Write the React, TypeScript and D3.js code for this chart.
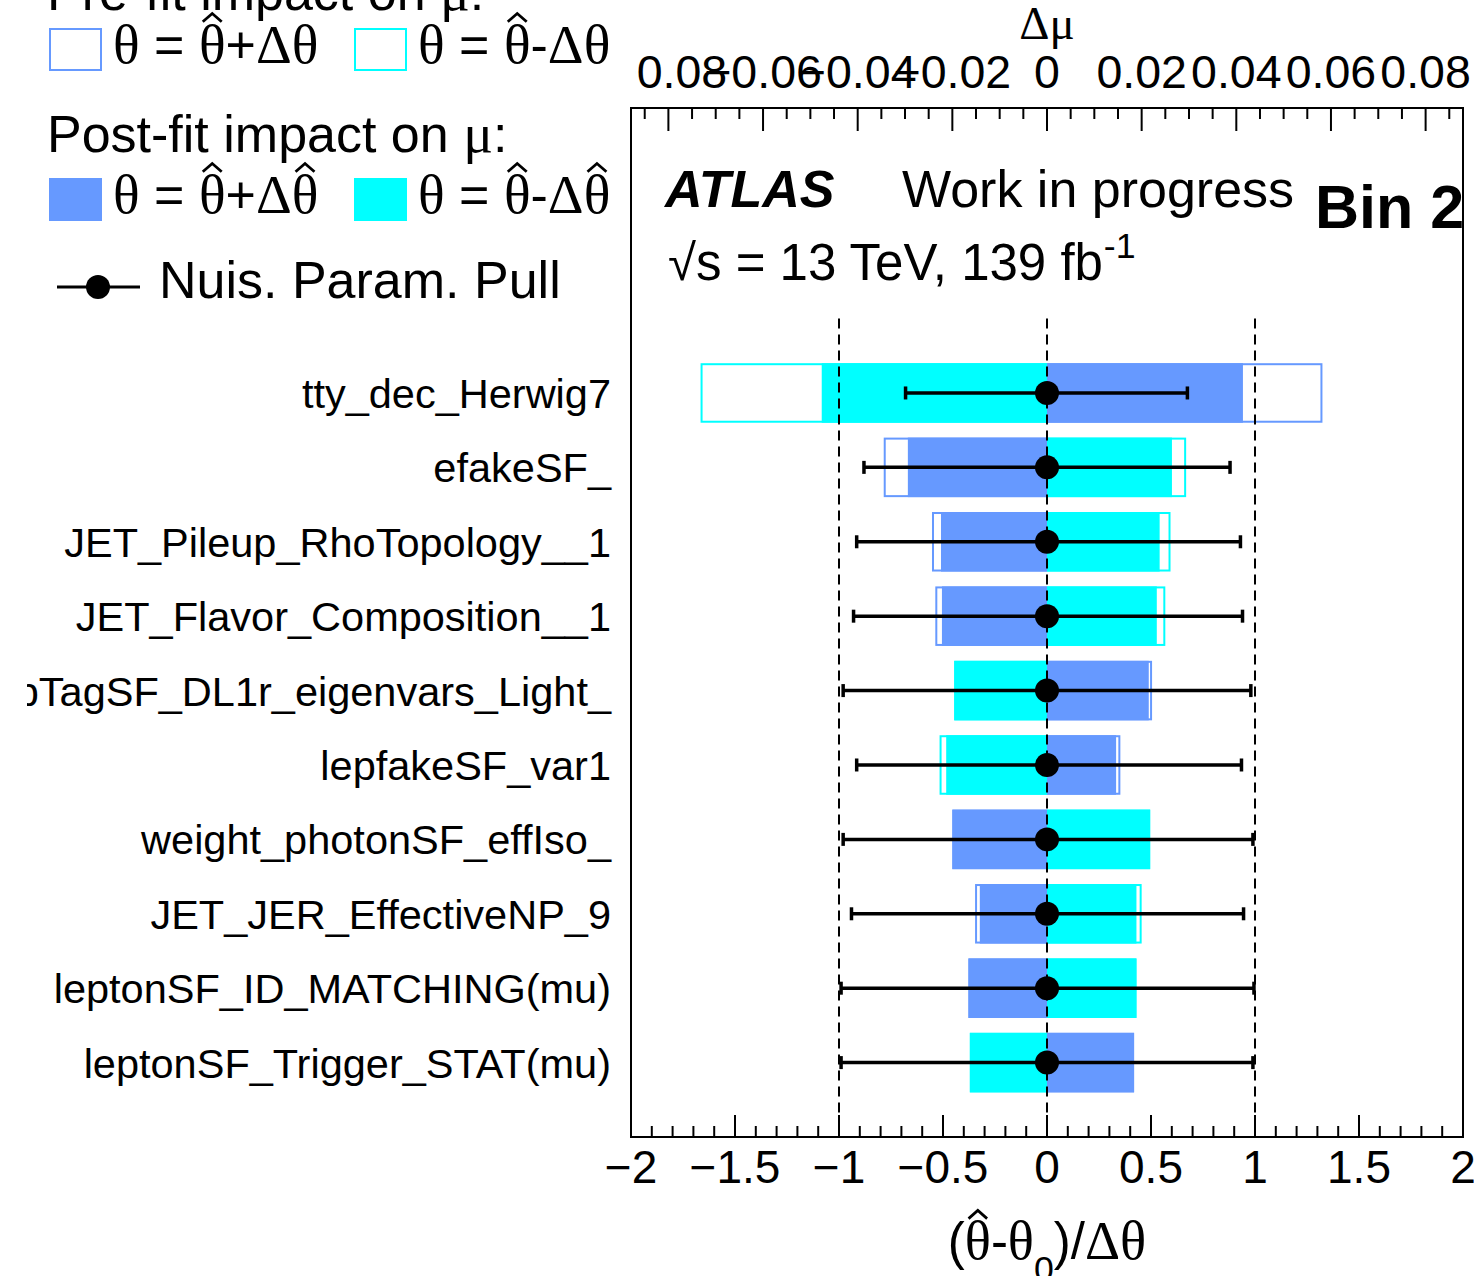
import React from 'react';
import * as d3 from 'd3';

// ---------- data ----------
const parameters = [
  'tty_dec_Herwig7',
  'efakeSF_',
  'JET_Pileup_RhoTopology__1',
  'JET_Flavor_Composition__1',
  'bTagSF_DL1r_eigenvars_Light_',
  'lepfakeSF_var1',
  'weight_photonSF_effIso_',
  'JET_JER_EffectiveNP_9',
  'leptonSF_ID_MATCHING(mu)',
  'leptonSF_Trigger_STAT(mu)',
];
// nuisance-parameter pulls (theta_hat - theta_0)/Delta theta and post-fit constraints
const pullValues = [0, 0, 0, 0, 0, 0, 0, 0, 0, 0];
const pullErrDown = [0.68, 0.88, 0.915, 0.93, 0.98, 0.915, 0.98, 0.94, 0.99, 0.99];
const pullErrUp = [0.675, 0.88, 0.93, 0.94, 0.98, 0.935, 0.99, 0.945, 0.995, 0.99];
// impact on mu (Delta mu)
const preFitUp = [0.0582, -0.0345, -0.0243, -0.0236, 0.0222, 0.0155, -0.02, -0.0152, -0.0166, 0.0184];
const preFitDown = [-0.0732, 0.0294, 0.0261, 0.025, -0.0196, -0.0227, 0.0218, 0.02, 0.0189, -0.0163];
const postFitUp = [0.0414, -0.0294, -0.0224, -0.0222, 0.0215, 0.0146, -0.02, -0.0142, -0.0166, 0.0184];
const postFitDown = [-0.0476, 0.0264, 0.0238, 0.0232, -0.0196, -0.0213, 0.0218, 0.0189, 0.0189, -0.0163];
// axis ticks
const pullTickValues = [-2, -1.5, -1, -0.5, 0, 0.5, 1, 1.5, 2];
const impactTickValues = [-0.08, -0.06, -0.04, -0.02, 0, 0.02, 0.04, 0.06, 0.08];
const referenceLines = [-1, 0, 1];

// ---------- style ----------
const W = 1474;
const H = 1276;
const SANS = "'Liberation Sans', Arial, Helvetica, sans-serif";
const SERIF = "'Liberation Serif', 'Times New Roman', Times, serif";
const BLUE = '#6699ff';
const CYAN = '#00ffff';
const frame = { l: 631, r: 1463, t: 108, b: 1137 };
const IMPACT_MAX = 0.0879;
const Y_TOP = 13.83;
const GREEK = 1.07;

// ---------- rich text (mixed fonts, hats, sub/superscripts) ----------
type Seg = { t: string; serif?: boolean; bold?: boolean; italic?: boolean; scale?: number; dy?: number; hat?: boolean };
let ctx: CanvasRenderingContext2D | null = null;
function textWidth(t: string, family: string, size: number, bold?: boolean, italic?: boolean) {
  if (!ctx) ctx = document.createElement('canvas').getContext('2d');
  if (!ctx) return t.length * size * 0.5;
  ctx.font = `${italic ? 'italic ' : ''}${bold ? 'bold ' : ''}${size}px ${family}`;
  return ctx.measureText(t).width;
}

function RichText({ x, y, size, segs, anchor = 'start' }: { x: number; y: number; size: number; segs: Seg[]; anchor?: string }) {
  let cx = 0;
  const items = segs.map((s) => {
    const sz = size * (s.scale ?? 1);
    const fam = s.serif ? SERIF : SANS;
    const w = textWidth(s.t, fam, sz, s.bold, s.italic);
    const it = { ...s, x: cx, w, sz, fam };
    cx += w;
    return it;
  });
  const x0 = anchor === 'middle' ? x - cx / 2 : anchor === 'end' ? x - cx : x;
  return (
    <g transform={`translate(${x0},${y})`}>
      {items.map((it, k) => (
        <React.Fragment key={k}>
          <text
            x={it.x}
            y={it.dy ?? 0}
            fontFamily={it.fam}
            fontSize={it.sz}
            fontWeight={it.bold ? 'bold' : 'normal'}
            fontStyle={it.italic ? 'italic' : 'normal'}
            style={{ whiteSpace: 'pre' }}
          >
            {it.t}
          </text>
          {it.hat && (
            <path
              d={`M${it.x + it.w / 2 - it.sz * 0.17},${-it.sz * 0.74} L${it.x + it.w / 2},${-it.sz * 0.89} L${it.x + it.w / 2 + it.sz * 0.17},${-it.sz * 0.74}`}
              fill="none"
              stroke="#000"
              strokeWidth={it.sz * 0.05}
            />
          )}
        </React.Fragment>
      ))}
    </g>
  );
}

const th = (hat = false, scale = 1): Seg => ({ t: 'θ', serif: true, hat, scale });

export default function App() {
  const n = parameters.length;
  const xPull = d3.scaleLinear().domain([-2, 2]).range([frame.l, frame.r]);
  const xImp = d3.scaleLinear().domain([-IMPACT_MAX, IMPACT_MAX]).range([frame.l, frame.r]);
  const y = d3.scaleLinear().domain([0, Y_TOP]).range([frame.b, frame.t]);
  const rowY = (i: number) => y(n - i);
  const barH = y(0) - y(0.8);

  const pullMinor = d3.range(-20, 21).map((k) => k / 10);
  const impMinor = d3.range(-17, 18).map((k) => k * 0.005);
  const fmt = d3.format('~g');

  const bar = (v: number) => {
    const a = xImp(0);
    const b = xImp(v);
    return { x: Math.min(a, b), w: Math.abs(b - a) };
  };

  const legendPre = (sign: string): Seg[] => [th(false, GREEK), { t: ' = ' }, th(true, GREEK), { t: sign }, { t: 'Δθ', serif: true, scale: GREEK }];
  const legendPost = (sign: string): Seg[] => [
    th(false, GREEK),
    { t: ' = ' },
    th(true, GREEK),
    { t: sign },
    { t: 'Δ', serif: true, scale: GREEK },
    th(true, GREEK),
  ];

  return (
    <svg width={W} height={H} viewBox={`0 0 ${W} ${H}`} style={{ display: 'block', position: 'absolute', left: 0, top: 0 }}>
      <defs>
        <clipPath id="labelsClip">
          <rect x={27} y={0} width={600} height={H} />
        </clipPath>
        <clipPath id="padClip">
          <rect x={frame.l + 4} y={0} width={W - frame.l - 4} height={H} />
        </clipPath>
        <clipPath id="frameClip">
          <rect x={frame.l} y={frame.t} width={frame.r - frame.l} height={frame.b - frame.t} />
        </clipPath>
      </defs>
      <rect x={0} y={0} width={W} height={H} fill="#fff" />

      {/* pre-fit impacts: open boxes */}
      {parameters.map((p, i) => (
        <g key={`pre-${p}`}>
          {[{ v: preFitUp[i], c: BLUE }, { v: preFitDown[i], c: CYAN }].map((d, k) => {
            const b = bar(d.v);
            return (
              <rect key={k} x={b.x + 1} y={rowY(i) - barH / 2 + 1} width={Math.max(0, b.w - 2)} height={barH - 2} fill="#fff" stroke={d.c} strokeWidth={2} />
            );
          })}
        </g>
      ))}
      {/* post-fit impacts: filled boxes */}
      {parameters.map((p, i) => (
        <g key={`post-${p}`}>
          {[{ v: postFitUp[i], c: BLUE }, { v: postFitDown[i], c: CYAN }].map((d, k) => {
            const b = bar(d.v);
            return <rect key={k} x={b.x} y={rowY(i) - barH / 2} width={b.w} height={barH} fill={d.c} />;
          })}
        </g>
      ))}

      {/* reference lines at -1, 0, +1 */}
      {referenceLines.map((v) => (
        <line key={v} x1={xPull(v)} x2={xPull(v)} y1={y(11)} y2={frame.b} stroke="#000" strokeWidth={2} strokeDasharray="10 6" />
      ))}

      {/* pulls */}
      {parameters.map((p, i) => {
        const yy = rowY(i);
        const lo = xPull(pullValues[i] - pullErrDown[i]);
        const hi = xPull(pullValues[i] + pullErrUp[i]);
        return (
          <g key={`pull-${p}`}>
            <line x1={lo} x2={hi} y1={yy} y2={yy} stroke="#000" strokeWidth={3.5} />
            <line x1={lo} x2={lo} y1={yy - 6.5} y2={yy + 6.5} stroke="#000" strokeWidth={3.5} />
            <line x1={hi} x2={hi} y1={yy - 6.5} y2={yy + 6.5} stroke="#000" strokeWidth={3.5} />
            <circle cx={xPull(pullValues[i])} cy={yy} r={12} fill="#000" />
          </g>
        );
      })}

      {/* frame */}
      <rect x={frame.l} y={frame.t} width={frame.r - frame.l} height={frame.b - frame.t} fill="none" stroke="#000" strokeWidth={2} />

      {/* bottom axis */}
      {pullMinor.map((v, k) => {
        const major = Math.abs(v * 2 - Math.round(v * 2)) < 1e-6;
        return <line key={k} x1={xPull(v)} x2={xPull(v)} y1={frame.b} y2={frame.b - (major ? 22 : 11)} stroke="#000" strokeWidth={2} />;
      })}
      {pullTickValues.map((v) => (
        <text key={v} x={xPull(v)} y={1183} textAnchor="middle" fontFamily={SANS} fontSize={46}>
          {fmt(v)}
        </text>
      ))}
      <RichText
        x={xPull(0)}
        y={1259}
        size={51}
        anchor="middle"
        segs={[
          { t: '(' },
          th(true, GREEK),
          { t: '-' },
          th(false, GREEK),
          { t: '0', scale: 0.7, dy: 22 },
          { t: ')/' },
          { t: 'Δθ', serif: true, scale: GREEK },
        ]}
      />

      {/* top axis */}
      {impMinor.map((v, k) => {
        const major = Math.abs(v / 0.02 - Math.round(v / 0.02)) < 1e-6;
        return <line key={k} x1={xImp(v)} x2={xImp(v)} y1={frame.t} y2={frame.t + (major ? 23 : 11)} stroke="#000" strokeWidth={2} />;
      })}
      <g clipPath="url(#padClip)">
        {impactTickValues.map((v) => (
          <text key={v} x={xImp(v)} y={88} textAnchor="middle" fontFamily={SANS} fontSize={46.5}>
            {fmt(v)}
          </text>
        ))}
      </g>
      <text x={xImp(0)} y={39} textAnchor="middle" fontFamily={SERIF} fontSize={47}>
        Δμ
      </text>

      {/* ATLAS label */}
      <text x={665} y={207} fontFamily={SANS} fontSize={52} fontWeight="bold" fontStyle="italic">
        ATLAS
      </text>
      <text x={902} y={207} fontFamily={SANS} fontSize={52}>
        Work in progress
      </text>
      <RichText
        x={668}
        y={280}
        size={51}
        segs={[{ t: '√s = 13 TeV, 139 fb' }, { t: '-1', scale: 0.7, dy: -22 }]}
      />
      <g clipPath="url(#frameClip)">
        <text x={1315} y={228} fontFamily={SANS} fontSize={61} fontWeight="bold">
          Bin 2
        </text>
      </g>

      {/* parameter names */}
      <g clipPath="url(#labelsClip)">
        {parameters.map((p, i) => (
          <text key={p} x={611} y={rowY(i) + 15} textAnchor="end" fontFamily={SANS} fontSize={41.5}>
            {p}
          </text>
        ))}
      </g>

      {/* legend */}
      <RichText x={47} y={10} size={52} segs={[{ t: 'Pre-fit impact on ' }, { t: 'μ', serif: true, scale: GREEK }, { t: ':' }]} />
      <rect x={50} y={29} width={51} height={41} fill="#fff" stroke={BLUE} strokeWidth={2} />
      <RichText x={113} y={63} size={52} segs={legendPre('+')} />
      <rect x={355} y={29} width={51} height={41} fill="#fff" stroke={CYAN} strokeWidth={2} />
      <RichText x={418} y={63} size={52} segs={legendPre('-')} />

      <RichText x={47} y={152} size={52} segs={[{ t: 'Post-fit impact on ' }, { t: 'μ', serif: true, scale: GREEK }, { t: ':' }]} />
      <rect x={49} y={178} width={53} height={43} fill={BLUE} />
      <RichText x={113} y={213} size={52} segs={legendPost('+')} />
      <rect x={354} y={178} width={53} height={43} fill={CYAN} />
      <RichText x={418} y={213} size={52} segs={legendPost('-')} />

      <line x1={57} x2={140} y1={287} y2={287} stroke="#000" strokeWidth={3} />
      <circle cx={98} cy={287} r={12} fill="#000" />
      <text x={159} y={298} fontFamily={SANS} fontSize={52}>
        Nuis. Param. Pull
      </text>
    </svg>
  );
}
